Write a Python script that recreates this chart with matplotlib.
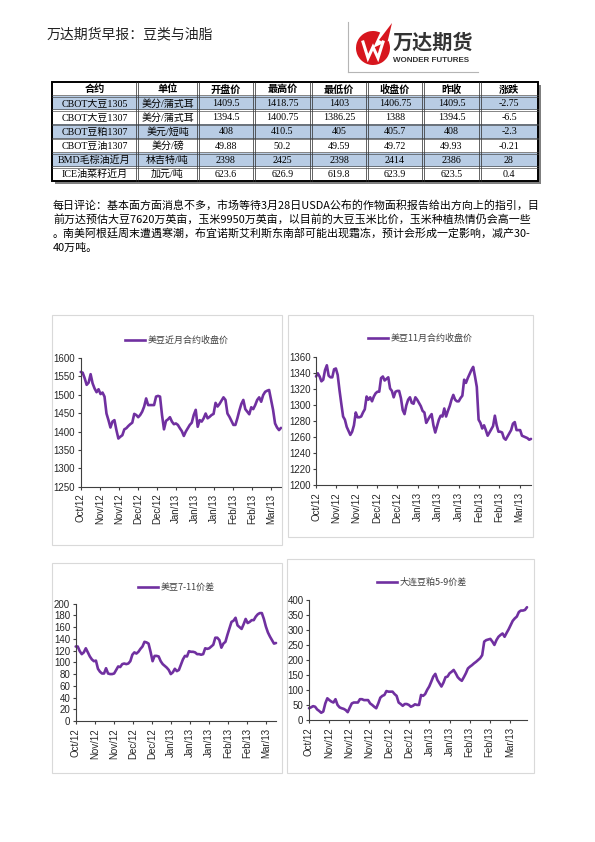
import matplotlib
matplotlib.use('Agg')
import matplotlib.pyplot as plt
import matplotlib.transforms as mtransforms
from matplotlib.patches import Rectangle, Wedge, Polygon
from matplotlib.lines import Line2D
import numpy as np

plt.rcParams['font.family'] = ['Noto Sans CJK SC', 'DejaVu Sans']

# ---------------- data ----------------
title = '万达期货早报：豆类与油脂'

columns = ['合约', '单位', '开盘价', '最高价', '最低价', '收盘价', '昨收', '涨跌']
contracts = ['CBOT大豆1305', 'CBOT大豆1307', 'CBOT豆粕1307', 'CBOT豆油1307', 'BMD毛棕油近月', 'ICE油菜籽近月']
units = ['美分/蒲式耳', '美分/蒲式耳', '美元/短吨', '美分/磅', '林吉特/吨', '加元/吨']
open_px = ['1409.5', '1394.5', '408', '49.88', '2398', '623.6']
high_px = ['1418.75', '1400.75', '410.5', '50.2', '2425', '626.9']
low_px = ['1403', '1386.25', '405', '49.59', '2398', '619.8']
close_px = ['1406.75', '1388', '405.7', '49.72', '2414', '623.9']
prev_px = ['1409.5', '1394.5', '408', '49.93', '2386', '623.5']
change = ['-2.75', '-6.5', '-2.3', '-0.21', '28', '0.4']

comment_lines = [
    '每日评论：基本面方面消息不多，市场等待3月28日USDA公布的作物面积报告给出方向上的指引，目',
    '前万达预估大豆7620万英亩，玉米9950万英亩，以目前的大豆玉米比价，玉米种植热情仍会高一些',
    '。南美阿根廷周末遭遇寒潮，布宜诺斯艾利斯东南部可能出现霜冻，预计会形成一定影响，减产30-',
    '40万吨。',
]

labels_a = ['Oct/12', 'Nov/12', 'Nov/12', 'Dec/12', 'Dec/12', 'Jan/13', 'Jan/13', 'Jan/13', 'Feb/13', 'Feb/13', 'Mar/13']
labels_b = ['Oct/12', 'Nov/12', 'Nov/12', 'Nov/12', 'Dec/12', 'Dec/12', 'Jan/13', 'Jan/13', 'Feb/13', 'Feb/13', 'Mar/13']

soy_front = [1562, 1560, 1545, 1527, 1533, 1556, 1531, 1517, 1507, 1515,
             1502, 1506, 1495, 1449, 1431, 1411, 1427, 1431, 1404, 1381,
             1386, 1390, 1406, 1409, 1415, 1420, 1424, 1448, 1445, 1439,
             1445, 1454, 1468, 1490, 1472, 1472, 1472, 1472, 1495, 1497,
             1495, 1445, 1406, 1429, 1433, 1439, 1427, 1420, 1422, 1418,
             1409, 1401, 1388, 1400, 1409, 1418, 1424, 1445, 1459, 1413,
             1431, 1427, 1436, 1449, 1436, 1440, 1445, 1448, 1478, 1468,
             1475, 1484, 1493, 1486, 1449, 1440, 1429, 1418, 1418, 1436,
             1457, 1475, 1486, 1461, 1454, 1447, 1466, 1461, 1472, 1486,
             1493, 1481, 1499, 1508, 1511, 1513, 1486, 1459, 1422, 1411,
             1404, 1410]

soy_nov = [1336, 1340, 1336, 1330, 1332, 1344, 1350, 1337, 1335, 1335,
           1345, 1346, 1338, 1319, 1302, 1286, 1282, 1273, 1268, 1263,
           1267, 1275, 1291, 1285, 1285, 1286, 1291, 1295, 1311, 1307,
           1310, 1305, 1311, 1315, 1317, 1317, 1334, 1336, 1331, 1333,
           1335, 1321, 1318, 1310, 1317, 1318, 1318, 1309, 1294, 1289,
           1300, 1307, 1310, 1303, 1302, 1310, 1307, 1303, 1299, 1293,
           1291, 1278, 1282, 1286, 1289, 1275, 1266, 1274, 1282, 1287,
           1286, 1296, 1286, 1293, 1299, 1307, 1313, 1307, 1305, 1305,
           1309, 1312, 1332, 1328, 1334, 1339, 1344, 1348, 1336, 1323,
           1282, 1278, 1271, 1275, 1269, 1262, 1266, 1270, 1274, 1287,
           1275, 1267, 1267, 1266, 1259, 1257, 1261, 1265, 1269, 1277,
           1279, 1269, 1269, 1269, 1262, 1261, 1260, 1259, 1257, 1258]

soy_spread = [127, 127, 119, 114, 117, 124, 117, 110, 105, 102,
              103, 89, 84, 81, 81, 90, 81, 80, 80, 81,
              87, 93, 92, 97, 98, 97, 98, 102, 113, 117,
              115, 118, 123, 127, 135, 134, 132, 118, 102, 111,
              111, 110, 102, 97, 94, 91, 87, 80, 83, 89,
              85, 87, 96, 105, 111, 110, 119, 118, 118, 117,
              114, 114, 113, 114, 124, 123, 124, 127, 130, 142,
              142, 138, 125, 132, 135, 147, 158, 169, 171, 176,
              163, 160, 157, 165, 174, 167, 169, 172, 172, 178,
              182, 184, 184, 174, 161, 151, 144, 138, 132, 133]

meal_spread = [40, 43, 47, 45, 36, 31, 25, 29, 56, 73,
               67, 62, 59, 70, 51, 43, 40, 38, 34, 27,
               42, 56, 59, 59, 59, 70, 70, 67, 67, 67,
               56, 51, 45, 40, 56, 75, 81, 84, 97, 95,
               95, 95, 87, 81, 59, 54, 48, 54, 54, 51,
               45, 48, 53, 51, 51, 84, 81, 87, 101, 112,
               128, 145, 154, 134, 123, 112, 125, 143, 145, 156,
               161, 167, 156, 143, 136, 131, 143, 156, 172, 178,
               183, 189, 194, 200, 206, 216, 261, 266, 268, 270,
               261, 250, 266, 277, 283, 288, 277, 290, 302, 316,
               330, 338, 344, 359, 364, 364, 366, 375]

# ---------------- figure ----------------
W, H = 595, 842
fig = plt.figure(figsize=(W / 100, H / 100), dpi=100)
fig.patch.set_facecolor('white')
px = mtransforms.Affine2D().scale(1 / W, -1 / H).translate(0, 1) + fig.transFigure

# title
fig.text(47, 34, title, transform=px, fontsize=10.0, va='center', ha='left', color='#222222')

# logo
fig.add_artist(Line2D([348, 348], [22, 72], transform=px, color='#B5B5B5', lw=0.8))
fig.add_artist(Line2D([348, 478], [72, 72], transform=px, color='#B5B5B5', lw=0.8))
red = '#D7161E'
fig.add_artist(Wedge((373, 48), 17, -25, 295, transform=px, color=red, lw=0))
fig.add_artist(Polygon([[379, 40], [392, 23], [387, 44]], closed=True, transform=px, color=red, lw=0))
fig.add_artist(Line2D([363, 368, 373, 378, 383], [42, 58, 47, 58, 42], transform=px, color='white',
                      lw=2.2, solid_joinstyle='miter'))
fig.text(393, 42, '万达期货', transform=px, fontsize=14.5, fontweight='bold', va='center', ha='left', color='#333333')
fig.text(393, 61, 'WONDER FUTURES', transform=px, fontsize=5.8, fontweight='bold', va='center', ha='left',
         color='#333333', family=['Liberation Sans', 'DejaVu Sans'])

# table
col_x = [52, 137, 198, 254, 311, 367, 423, 480, 538]
t_top, row_h = 82, 14.14
nrows = 1 + len(contracts)
t_bot = t_top + row_h * nrows
# shadow
fig.add_artist(Rectangle((55, t_top + 3), col_x[-1] - col_x[0], t_bot - t_top, transform=px,
                         facecolor='#7F7F7F', edgecolor='none'))
fig.add_artist(Rectangle((col_x[0], t_top), col_x[-1] - col_x[0], t_bot - t_top, transform=px,
                         facecolor='white', edgecolor='none'))
rows = list(zip(contracts, units, open_px, high_px, low_px, close_px, prev_px, change))
for i, row in enumerate(rows):
    y0 = t_top + row_h * (i + 1)
    if i % 2 == 0:
        fig.add_artist(Rectangle((col_x[0], y0), col_x[-1] - col_x[0], row_h, transform=px,
                                 facecolor='#B8CCE4', edgecolor='none'))
cell_font = ['Liberation Serif', 'Noto Sans CJK SC']
for j, c in enumerate(columns):
    fig.text((col_x[j] + col_x[j + 1]) / 2, t_top + row_h / 2 + 0.5, c, transform=px, fontsize=7.3,
             fontweight='bold', ha='center', va='center', color='black', family=cell_font)
for i, row in enumerate(rows):
    yc = t_top + row_h * (i + 1.5) + 0.5
    for j, v in enumerate(row):
        fig.text((col_x[j] + col_x[j + 1]) / 2, yc, v, transform=px, fontsize=7.2,
                 ha='center', va='center', color='black', family=cell_font)
# inner grid (double lines)
for x in col_x[1:-1]:
    for d in (-0.9, 0.9):
        fig.add_artist(Line2D([x + d, x + d], [t_top, t_bot], transform=px, color='#262626', lw=0.5))
for i in range(1, nrows):
    y = t_top + row_h * i
    for d in (-0.8, 0.8):
        fig.add_artist(Line2D([col_x[0], col_x[-1]], [y + d, y + d], transform=px, color='#404040', lw=0.45))
fig.add_artist(Rectangle((col_x[0], t_top), col_x[-1] - col_x[0], t_bot - t_top, transform=px,
                         facecolor='none', edgecolor='black', lw=1.4))

# comment
for k, line in enumerate(comment_lines):
    fig.text(53, 205 + 14.3 * k, line, transform=px, fontsize=7.9, ha='left', va='center', color='black')

# charts
purple = '#7030A0'
tick_font = ['Liberation Sans', 'DejaVu Sans']


def chart(values, ax_px, ylim, ystep, labels, frac, legend_text, leg_px, box_px):
    bl, bt, br, bb = box_px
    fig.add_artist(Rectangle((bl, bt), br - bl, bb - bt, transform=px, facecolor='none',
                             edgecolor='#D9D9D9', lw=0.8))
    l, r, t, b = ax_px
    ax = fig.add_axes([l / W, 1 - b / H, (r - l) / W, (b - t) / H])
    n = len(values)
    ax.plot(range(n), values, color=purple, lw=1.9, solid_joinstyle='round', solid_capstyle='round',
            clip_on=False)
    ax.set_xlim(0, n - 1)
    ax.set_ylim(*ylim)
    ax.set_yticks(np.arange(ylim[0], ylim[1] + 1, ystep))
    ax.set_xticks([i * frac * (n - 1) for i in range(len(labels))])
    ax.set_xticklabels(labels, rotation=90)
    for s in ('top', 'right'):
        ax.spines[s].set_visible(False)
    for s in ('left', 'bottom'):
        ax.spines[s].set_color('#404040')
        ax.spines[s].set_linewidth(0.8)
    ax.tick_params(axis='both', direction='out', length=2.5, width=0.8, color='#404040',
                   labelsize=7.0, labelcolor='#262626', pad=1.5)
    ax.tick_params(axis='x', pad=2.5)
    for lab in ax.get_xticklabels() + ax.get_yticklabels():
        lab.set_family(tick_font)
    ax.patch.set_alpha(0)
    lx, ly = leg_px
    fig.add_artist(Line2D([lx, lx + 20], [ly, ly], transform=px, color=purple, lw=1.9))
    fig.text(lx + 23, ly, legend_text, transform=px, fontsize=6.5, ha='left', va='center', color='#404040')
    return ax


chart(soy_front, (80.7, 281, 358, 486.7), (1250, 1600), 50, labels_a, 57.1 / 600,
      '美豆近月合约收盘价', (125, 340), (52, 315, 282, 545))
chart(soy_nov, (316, 531, 357.3, 485.3), (1200, 1360), 20, labels_a, 61 / 644,
      '美豆11月合约收盘价', (368, 338), (288, 315, 533, 537))
chart(soy_spread, (75.7, 276, 603.7, 721), (0, 200), 20, labels_a, 57.1 / 600,
      '美豆7-11价差', (138, 587), (52, 563, 282, 773))
chart(meal_spread, (309, 527, 599.7, 720.3), (0, 400), 50, labels_b, 59.4 / 645,
      '大连豆粕5-9价差', (377, 582), (287, 559, 534, 773))

fig.savefig('out.png', dpi=100, facecolor='white')
